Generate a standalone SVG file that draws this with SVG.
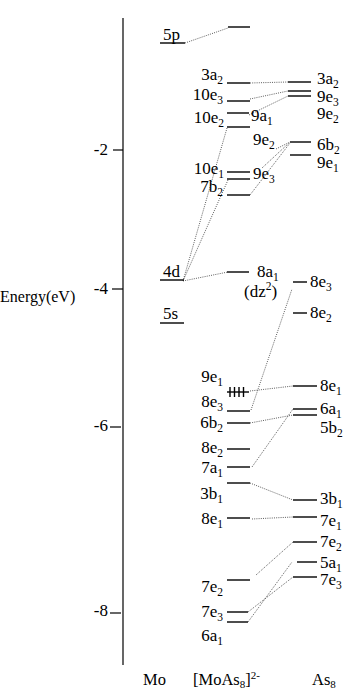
<svg xmlns="http://www.w3.org/2000/svg" width="346" height="692" viewBox="0 0 346 692">
<style>
.t{font-family:"Liberation Serif","Times New Roman",serif;font-size:17px;fill:#000}
.e{text-anchor:end}
.s{font-size:11.5px}
.lv{stroke:#000;stroke-width:1.4;fill:none}
.ax{stroke:#000;stroke-width:1.2;fill:none}
.dl{stroke:#333;stroke-width:0.8;stroke-dasharray:1 1.2;fill:none}
</style>
<rect width="346" height="692" fill="#fff"/>
<g id="axis">
<line class="ax" x1="123" y1="18" x2="123" y2="665"/>
<line class="ax" x1="113" y1="150" x2="123" y2="150"/>
<line class="ax" x1="112" y1="289" x2="123" y2="289"/>
<line class="ax" x1="110" y1="427" x2="121" y2="427"/>
<line class="ax" x1="110" y1="613" x2="121" y2="613"/>
<text class="t e" x="108" y="155">-2</text>
<text class="t e" x="108" y="294">-4</text>
<text class="t e" x="108" y="431">-6</text>
<text class="t e" x="108" y="616">-8</text>
<text class="t" x="0" y="302" style="font-size:16px">Energy(eV)</text>
</g>
<g id="connectors">
<line class="dl" x1="185" y1="43" x2="228" y2="28"/>
<line class="dl" x1="250" y1="83" x2="288" y2="82"/>
<line class="dl" x1="250" y1="99" x2="288" y2="91"/>
<line class="dl" x1="249" y1="115" x2="288" y2="96"/>
<line class="dl" x1="227" y1="128" x2="183" y2="281"/>
<line class="dl" x1="228" y1="180" x2="183" y2="281"/>
<line class="dl" x1="276" y1="149" x2="290" y2="142"/>
<line class="dl" x1="262" y1="168" x2="289" y2="143"/>
<line class="dl" x1="250" y1="195" x2="290" y2="143"/>
<line class="dl" x1="183" y1="281" x2="228" y2="272"/>
<line class="dl" x1="250" y1="391" x2="293" y2="386"/>
<line class="dl" x1="251" y1="410" x2="292" y2="289"/>
<line class="dl" x1="250" y1="423" x2="293" y2="415"/>
<line class="dl" x1="252" y1="467" x2="293" y2="409"/>
<line class="dl" x1="250" y1="483" x2="293" y2="500"/>
<line class="dl" x1="252" y1="519" x2="293" y2="517"/>
<line class="dl" x1="256" y1="575" x2="293" y2="542"/>
<line class="dl" x1="248" y1="612" x2="293" y2="577"/>
<line class="dl" x1="248" y1="622" x2="292" y2="562"/>
</g>
<g id="mo-5p"><line class="lv" x1="160" y1="43" x2="185" y2="43"/><text class="t" x="163" y="40">5p</text></g>
<g id="mo-4d"><line class="lv" x1="160" y1="280" x2="184" y2="280"/><text class="t" x="163" y="277">4d</text></g>
<g id="mo-5s"><line class="lv" x1="160" y1="323" x2="184" y2="323"/><text class="t" x="163" y="319">5s</text></g>

<g id="c-5p"><line class="lv" x1="228" y1="27" x2="250" y2="27"/></g>
<g id="c-3a2"><line class="lv" x1="227" y1="83" x2="250" y2="83"/><text class="t e" x="223" y="80">3a<tspan dy="4" class="s">2</tspan></text></g>
<g id="c-10e3"><line class="lv" x1="227" y1="101" x2="250" y2="101"/><text class="t e" x="223" y="100">10e<tspan dy="4" class="s">3</tspan></text></g>
<g id="c-9a1"><line class="lv" x1="227" y1="113" x2="249" y2="113"/><text class="t" x="251" y="121">9a<tspan dy="4" class="s">1</tspan></text></g>
<g id="c-10e2"><line class="lv" x1="227" y1="127" x2="250" y2="127"/><text class="t e" x="224" y="123">10e<tspan dy="4" class="s">2</tspan></text></g>
<g id="c-9e2"><text class="t" x="253" y="145">9e<tspan dy="4" class="s">2</tspan></text></g>
<g id="c-10e1"><line class="lv" x1="227" y1="172" x2="250" y2="172"/><text class="t e" x="224" y="174">10e<tspan dy="4" class="s">1</tspan></text></g>
<g id="c-9e3"><line class="lv" x1="227" y1="179" x2="250" y2="179"/><text class="t" x="253" y="179">9e<tspan dy="4" class="s">3</tspan></text></g>
<g id="c-7b2"><line class="lv" x1="227" y1="195" x2="250" y2="195"/><text class="t e" x="223" y="192">7b<tspan dy="4" class="s">2</tspan></text></g>
<g id="c-8a1"><line class="lv" x1="227" y1="272" x2="249" y2="272"/><text class="t" x="257" y="277">8a<tspan dy="3.5" class="s">1</tspan></text><text class="t" x="244" y="297">(dz<tspan dy="-7" class="s">2</tspan><tspan dy="7">)</tspan></text></g>
<g id="c-9e1"><line class="lv" x1="227" y1="392" x2="249" y2="392"/><line class="lv" x1="230" y1="387" x2="230" y2="397"/><line class="lv" x1="234.5" y1="387" x2="234.5" y2="397"/><line class="lv" x1="239" y1="387" x2="239" y2="397"/><line class="lv" x1="243.5" y1="387" x2="243.5" y2="397"/><text class="t e" x="223" y="382">9e<tspan dy="4" class="s">1</tspan></text></g>
<g id="c-8e3"><line class="lv" x1="227" y1="411" x2="250" y2="411"/><text class="t e" x="223" y="407">8e<tspan dy="4" class="s">3</tspan></text></g>
<g id="c-6b2"><line class="lv" x1="227" y1="423" x2="250" y2="423"/><text class="t e" x="223" y="428">6b<tspan dy="4" class="s">2</tspan></text></g>
<g id="c-8e2"><line class="lv" x1="227" y1="449" x2="250" y2="449"/><text class="t e" x="223" y="453">8e<tspan dy="4" class="s">2</tspan></text></g>
<g id="c-7a1"><line class="lv" x1="227" y1="467" x2="250" y2="467"/><text class="t e" x="223" y="473">7a<tspan dy="4" class="s">1</tspan></text></g>
<g id="c-3b1"><line class="lv" x1="227" y1="483" x2="250" y2="483"/><text class="t e" x="223" y="499">3b<tspan dy="4" class="s">1</tspan></text></g>
<g id="c-8e1"><line class="lv" x1="227" y1="518" x2="250" y2="518"/><text class="t e" x="223" y="524">8e<tspan dy="4" class="s">1</tspan></text></g>
<g id="c-7e2"><line class="lv" x1="227" y1="580" x2="250" y2="580"/><text class="t e" x="223" y="592">7e<tspan dy="4" class="s">2</tspan></text></g>
<g id="c-7e3"><line class="lv" x1="227" y1="612" x2="248" y2="612"/><text class="t e" x="223" y="617">7e<tspan dy="4" class="s">3</tspan></text></g>
<g id="c-6a1"><line class="lv" x1="227" y1="622" x2="248" y2="622"/><text class="t e" x="223" y="641">6a<tspan dy="4" class="s">1</tspan></text></g>

<g id="a-3a2"><line class="lv" x1="288" y1="82" x2="311" y2="82"/><text class="t" x="317" y="84">3a<tspan dy="4" class="s">2</tspan></text></g>
<g id="a-9e3"><line class="lv" x1="288" y1="91" x2="311" y2="91"/><text class="t" x="317" y="102">9e<tspan dy="4" class="s">3</tspan></text></g>
<g id="a-9e2"><line class="lv" x1="288" y1="96" x2="311" y2="96"/><text class="t" x="317" y="119">9e<tspan dy="4" class="s">2</tspan></text></g>
<g id="a-6b2"><line class="lv" x1="290" y1="142" x2="311" y2="142"/><text class="t" x="317" y="150">6b<tspan dy="3.5" class="s">2</tspan></text></g>
<g id="a-9e1"><line class="lv" x1="290" y1="155" x2="311" y2="155"/><text class="t" x="317" y="168">9e<tspan dy="4" class="s">1</tspan></text></g>
<g id="a-8e3"><line class="lv" x1="293" y1="282" x2="307" y2="282"/><text class="t" x="310" y="287">8e<tspan dy="4" class="s">3</tspan></text></g>
<g id="a-8e2"><line class="lv" x1="293" y1="313" x2="307" y2="313"/><text class="t" x="310" y="318">8e<tspan dy="4" class="s">2</tspan></text></g>
<g id="a-8e1"><line class="lv" x1="293" y1="386" x2="317" y2="386"/><text class="t" x="320" y="391">8e<tspan dy="4" class="s">1</tspan></text></g>
<g id="a-6a1"><line class="lv" x1="293" y1="409" x2="317" y2="409"/><text class="t" x="320" y="414">6a<tspan dy="4" class="s">1</tspan></text></g>
<g id="a-5b2"><line class="lv" x1="293" y1="415" x2="317" y2="415"/><text class="t" x="320" y="433">5b<tspan dy="4" class="s">2</tspan></text></g>
<g id="a-3b1"><line class="lv" x1="293" y1="500" x2="317" y2="500"/><text class="t" x="320" y="504">3b<tspan dy="4" class="s">1</tspan></text></g>
<g id="a-7e1"><line class="lv" x1="293" y1="517" x2="317" y2="517"/><text class="t" x="320" y="526">7e<tspan dy="4" class="s">1</tspan></text></g>
<g id="a-7e2"><line class="lv" x1="293" y1="542" x2="317" y2="542"/><text class="t" x="320" y="547">7e<tspan dy="4" class="s">2</tspan></text></g>
<g id="a-5a1"><line class="lv" x1="297" y1="562" x2="317" y2="562"/><text class="t" x="320" y="568">5a<tspan dy="4" class="s">1</tspan></text></g>
<g id="a-7e3"><line class="lv" x1="293" y1="577" x2="317" y2="577"/><text class="t" x="320" y="585">7e<tspan dy="4" class="s">3</tspan></text></g>

<g id="col-labels">
<text class="t" x="143" y="685" style="font-size:16.5px">Mo</text>
<text class="t" x="193" y="685" style="font-size:16.5px">[MoAs<tspan dy="3" style="font-size:11px">8</tspan><tspan dy="-3">]</tspan><tspan dy="-6" style="font-size:11px">2-</tspan></text>
<text class="t" x="312" y="685" style="font-size:16.5px">As<tspan dy="3" style="font-size:11px">8</tspan></text>
</g>
</svg>
